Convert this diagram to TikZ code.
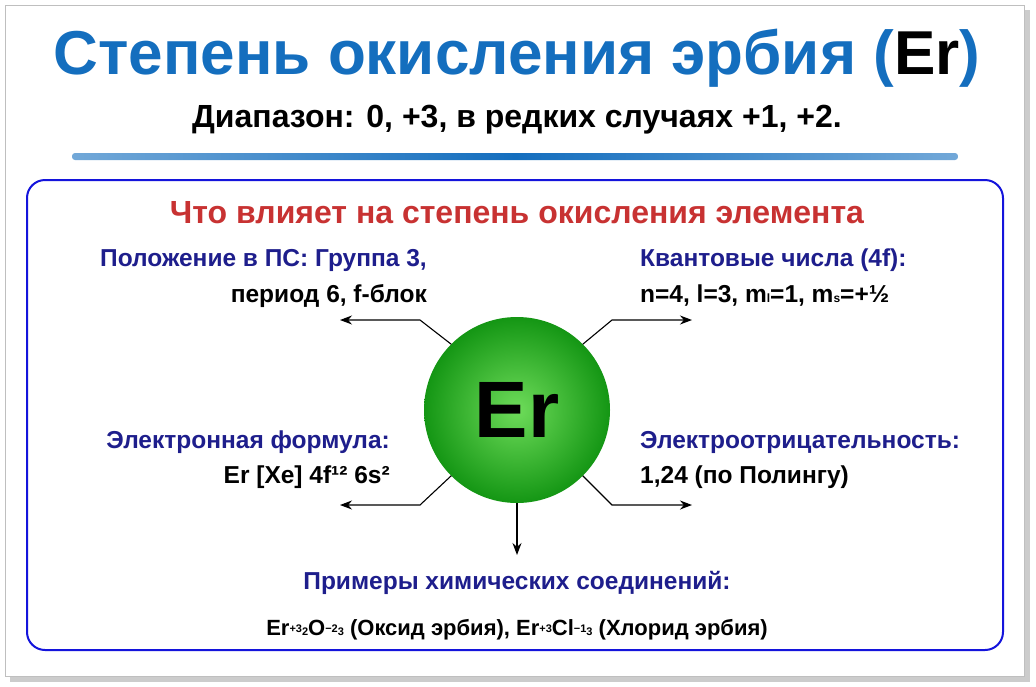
\documentclass[tikz,border=0pt]{standalone}
\usepackage{fontspec}
\setmainfont{Liberation Sans}
\usetikzlibrary{arrows.meta,calc}
\definecolor{tblue}{RGB}{20,110,190}
\definecolor{nblue}{RGB}{30,30,140}
\definecolor{hred}{RGB}{200,50,50}
\definecolor{fblue}{RGB}{20,20,220}
\definecolor{gin}{RGB}{110,220,90}
\definecolor{gout}{RGB}{20,150,20}
\tikzset{
 lbl/.style={font=\bfseries\fontsize{24.5}{28}\selectfont, inner sep=0pt},
 arr/.style={-{Stealth[length=12pt,width=9pt]}, line width=1.1pt},
}
\begin{document}
\begin{tikzpicture}[x=1pt,y=-1pt]
\useasboundingbox (0,0) rectangle (1036,686);
\fill[white] (0,0) rectangle (1036,686);
\fill[gray!40] (10,10) rectangle (1030,682);
\draw[gray!50, fill=white] (5,5) rectangle (1024,676);
\node[font=\bfseries\fontsize{62}{70}\selectfont, text=tblue, inner sep=0pt] (title) at (517,58) {Степень окисления эрбия (\textcolor{black}{Er})};
\node[font=\bfseries\fontsize{32}{36}\selectfont, inner sep=0pt] (sub) at (517,120) {Диапазон: 0, +3, в редких случаях +1, +2.};
\shade[left color=tblue!60, right color=tblue!60, middle color=tblue, rounded corners=3pt] (72,153) rectangle (958,160);
\draw[fblue, line width=2pt, rounded corners=18pt] (27,180) rectangle (1003,650);
\node[font=\bfseries\fontsize{32}{36}\selectfont, text=hred, inner sep=0pt] (head) at (517,213) {Что влияет на степень окисления элемента};
\shade[inner color=gin, outer color=gout] (517,410) circle (93);
\node[font=\bfseries\fontsize{80}{84}\selectfont, inner sep=0pt] (er) at (517,410) {Er};
\coordinate (c) at (517,410);
\node[lbl, text=nblue, anchor=east] (l1) at (427,260) {Положение в ПС: Группа 3,};
\node[lbl, anchor=east] (l2) at (427,296) {период 6, f-блок};
\node[lbl, text=nblue, anchor=west] (r1) at (640,260) {Квантовые числа (4f):};
\node[lbl, anchor=west] (r2) at (640,296) {n=4, l=3, m{\fontsize{12}{12}\selectfont l}=1, m{\fontsize{12}{12}\selectfont s}=+½};
\node[lbl, text=nblue, anchor=east] (l3) at (390,442) {Электронная формула:};
\node[lbl, anchor=east] (l4) at (390,477) {Er [Xe] 4f¹² 6s²};
\node[lbl, text=nblue, anchor=west] (r3) at (640,442) {Электроотрицательность:};
\node[lbl, anchor=west] (r4) at (640,477) {1,24 (по Полингу)};
\node[lbl, text=nblue] (b1) at (517,583) {Примеры химических соединений:};
\node[font=\bfseries\fontsize{22}{26}\selectfont, inner sep=0pt] (b2) at (517,630) {Er{\fontsize{11}{11}\selectfont\raisebox{0.6ex}{+3}}{\fontsize{11}{11}\selectfont 2}O{\fontsize{11}{11}\selectfont\raisebox{0.6ex}{−2}}{\fontsize{11}{11}\selectfont 3} (Оксид эрбия), Er{\fontsize{11}{11}\selectfont\raisebox{0.6ex}{+3}}Cl{\fontsize{11}{11}\selectfont\raisebox{0.6ex}{−1}}{\fontsize{11}{11}\selectfont 3} (Хлорид эрбия)};
\coordinate (a1) at (340,320); \coordinate (a2) at (692,320);
\coordinate (a3) at (340,505); \coordinate (a4) at (692,505);
\coordinate (a5) at (517,555);
\draw[arr] ($(c)+(225:93)$) -- (420,320) -- (a1);
\draw[arr] ($(c)+(-45:93)$) -- (612,320) -- (a2);
\draw[arr] ($(c)+(135:93)$) -- (420,505) -- (a3);
\draw[arr] ($(c)+(45:93)$) -- (612,505) -- (a4);
\draw[arr] ($(c)+(0,93)$) -- (a5);
\end{tikzpicture}
\end{document}
